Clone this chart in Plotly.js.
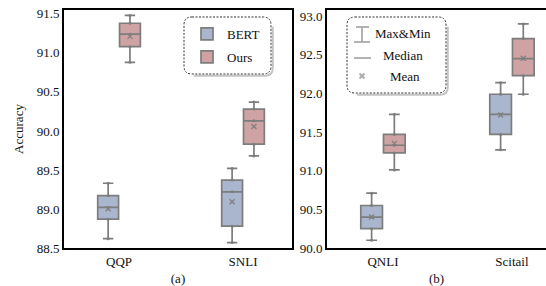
<!DOCTYPE html>
<html>
<head>
<meta charset="utf-8">
<script src="https://cdn.plot.ly/plotly-3.0.1.min.js"></script>
<style>html,body{margin:0;padding:0;background:#fff;}#chart{width:546px;height:286px;}</style>
</head>
<body>
<div id="chart"></div>
<script>
// ---- data ----
const categoriesA = ['QQP', 'SNLI'];
const categoriesB = ['QNLI', 'Scitail'];
const seriesNames = ['BERT', 'Ours'];
const bertQQP     = [88.62, 88.87, 89.02, 89.17, 89.33];
const oursQQP     = [90.88, 91.08, 91.24, 91.38, 91.48];
const bertSNLI    = [88.57, 88.78, 89.22, 89.37, 89.52];
const oursSNLI    = [89.68, 89.83, 90.13, 90.28, 90.37];
const bertQNLI    = [90.10, 90.25, 90.40, 90.55, 90.71];
const oursQNLI    = [91.01, 91.23, 91.33, 91.47, 91.73];
const bertScitail = [91.27, 91.47, 91.73, 91.99, 92.14];
const oursScitail = [91.99, 92.23, 92.45, 92.71, 92.90];
const yTicksA = [88.5, 89.0, 89.5, 90.0, 90.5, 91.0, 91.5];
const yTicksB = [90.0, 90.5, 91.0, 91.5, 92.0, 92.5, 93.0];
const legendLabelsB = ['Max&Min', 'Median', 'Mean'];

// ---- styling ----
const FONT = 'Liberation Serif';
const fillColors = {BERT: 'rgb(170,182,205)', Ours: 'rgb(207,163,163)'};
const edgeGrey = '#7d7d7d';
const OFF = 0.088, BOXW = 0.168;
const W = 546, H = 286, ML = 64, MR = 0, MT = 10, MB = 38;
const PW = W - ML - MR, PH = H - MT - MB;
const px = x => (x - ML) / PW;
const py = y => (H - MB - y) / PH;

const mean = a => a.reduce((s, v) => s + v, 0) / a.length;

function boxTrace(name, groups, sign, xa, ya, showLegend) {
  const xs = [], ys = [];
  groups.forEach((vals, i) => vals.forEach(v => { xs.push(i + sign * OFF); ys.push(v); }));
  return {
    type: 'box', name: name, x: xs, y: ys, xaxis: xa, yaxis: ya,
    legendgroup: name, showlegend: showLegend,
    quartilemethod: 'inclusive', boxpoints: 'all', jitter: 0, pointpos: 0,
    width: BOXW, whiskerwidth: 0.5,
    fillcolor: fillColors[name],
    line: {color: edgeGrey, width: 1.7},
    marker: {color: edgeGrey, size: 3},
    hoverinfo: 'skip'
  };
}
function meanTrace(groups, sign, xa, ya) {
  return {
    type: 'scatter', mode: 'markers', x: groups.map((g, i) => i + sign * OFF),
    y: groups.map(mean), xaxis: xa, yaxis: ya, showlegend: false, hoverinfo: 'skip',
    marker: {symbol: 'x-thin', size: 5, line: {color: '#808080', width: 1.4}}
  };
}

const traces = [
  boxTrace('BERT', [bertQQP, bertSNLI], -1, 'x', 'y', true),
  boxTrace('Ours', [oursQQP, oursSNLI], 1, 'x', 'y', true),
  boxTrace('BERT', [bertQNLI, bertScitail], -1, 'x2', 'y2', false),
  boxTrace('Ours', [oursQNLI, oursScitail], 1, 'x2', 'y2', false),
  meanTrace([bertQQP, bertSNLI], -1, 'x', 'y'),
  meanTrace([oursQQP, oursSNLI], 1, 'x', 'y'),
  meanTrace([bertQNLI, bertScitail], -1, 'x2', 'y2'),
  meanTrace([oursQNLI, oursScitail], 1, 'x2', 'y2')
];

// rounded dashed legend frames (pixel -> paper)
function roundRect(x0, y0, x1, y1, r) {
  const P = (x, y) => px(x) + ',' + py(y);
  return 'M' + P(x0 + r, y0) + ' L' + P(x1 - r, y0) + ' Q' + P(x1, y0) + ' ' + P(x1, y0 + r) +
    ' L' + P(x1, y1 - r) + ' Q' + P(x1, y1) + ' ' + P(x1 - r, y1) +
    ' L' + P(x0 + r, y1) + ' Q' + P(x0, y1) + ' ' + P(x0, y1 - r) +
    ' L' + P(x0, y0 + r) + ' Q' + P(x0, y0) + ' ' + P(x0 + r, y0) + ' Z';
}
function shadowPath(x0, y0, x1, y1, r, d) {
  const P = (x, y) => px(x + d) + ',' + py(y + d);
  return 'M' + P(x1, y0 + r) + ' L' + P(x1, y1 - r) + ' Q' + P(x1, y1) + ' ' + P(x1 - r, y1) +
    ' L' + P(x0 + r, y1);
}
const frames = [[184, 17, 271, 74], [347, 17, 446, 93]];
const shapes = [];
frames.forEach(f => {
  shapes.push({type: 'path', xref: 'paper', yref: 'paper', path: shadowPath(f[0], f[1], f[2], f[3], 8, 1.8),
    line: {color: '#c4c4c4', width: 2}});
  shapes.push({type: 'path', xref: 'paper', yref: 'paper', path: roundRect(f[0], f[1], f[2], f[3], 8),
    line: {color: '#333', width: 1, dash: '2px,1.5px'}});
});
const iconGrey = '#ababab';
const L = (x0, y0, x1, y1) => ({type: 'line', xref: 'paper', yref: 'paper',
  x0: px(x0), y0: py(y0), x1: px(x1), y1: py(y1), line: {color: iconGrey, width: 1.8}});
shapes.push(L(356, 27, 369, 27), L(362, 27, 362, 42), L(354, 42, 370, 42));
shapes.push(L(354, 58, 371, 58));
shapes.push(L(359.5, 73.5, 364.5, 78.5), L(359.5, 78.5, 364.5, 73.5));

const annYs = [33, 56, 76];
const annXs = [403, 403, 405];
const annotations = legendLabelsB.map((t, i) => ({
  text: t, xref: 'paper', yref: 'paper', x: px(annXs[i]), y: py(annYs[i]),
  xanchor: 'center', yanchor: 'middle', showarrow: false,
  font: {family: FONT, size: 13, color: '#111'}
}));

const axFont = {family: FONT, size: 13, color: '#111'};
const baseX = {showgrid: false, zeroline: false, showline: true, linecolor: '#000', linewidth: 2,
  mirror: true, ticks: '', tickfont: axFont, tickmode: 'array', tickvals: [0, 1]};
const baseY = {showgrid: false, zeroline: false, showline: true, linecolor: '#000', linewidth: 2,
  ticks: '', tickfont: axFont, tickmode: 'array', tickformat: '.1f'};

const layout = {
  width: W, height: H, margin: {l: ML, r: MR, t: MT, b: MB},
  paper_bgcolor: '#fff', plot_bgcolor: '#fff',
  font: {family: FONT, size: 13, color: '#111'},
  boxmode: 'overlay', showlegend: true,
  legend: {x: px(187), y: py(19), xanchor: 'left', yanchor: 'top', bgcolor: 'rgba(0,0,0,0)',
    borderwidth: 0, font: {family: FONT, size: 13, color: '#111'}, tracegroupgap: 3},
  xaxis: Object.assign({}, baseX, {domain: [0, px(292)], range: [-0.444, 1.395], ticktext: categoriesA,
    title: {text: '(a)', font: axFont, standoff: 11}}),
  yaxis: Object.assign({}, baseY, {range: [88.5, 91.55], tickvals: yTicksA, mirror: true,
    title: {text: 'Accuracy', font: axFont, standoff: 10}}),
  xaxis2: Object.assign({}, baseX, {domain: [px(327), 1], range: [-0.434, 1.264], ticktext: categoriesB,
    anchor: 'y2', title: {text: '(b)', font: axFont, standoff: 11}}),
  yaxis2: Object.assign({}, baseY, {range: [90.0, 93.08], tickvals: yTicksB, anchor: 'x2', mirror: false}),
  shapes: shapes, annotations: annotations
};

Plotly.newPlot('chart', traces, layout, {staticPlot: true, displayModeBar: false});
</script>
</body>
</html>
